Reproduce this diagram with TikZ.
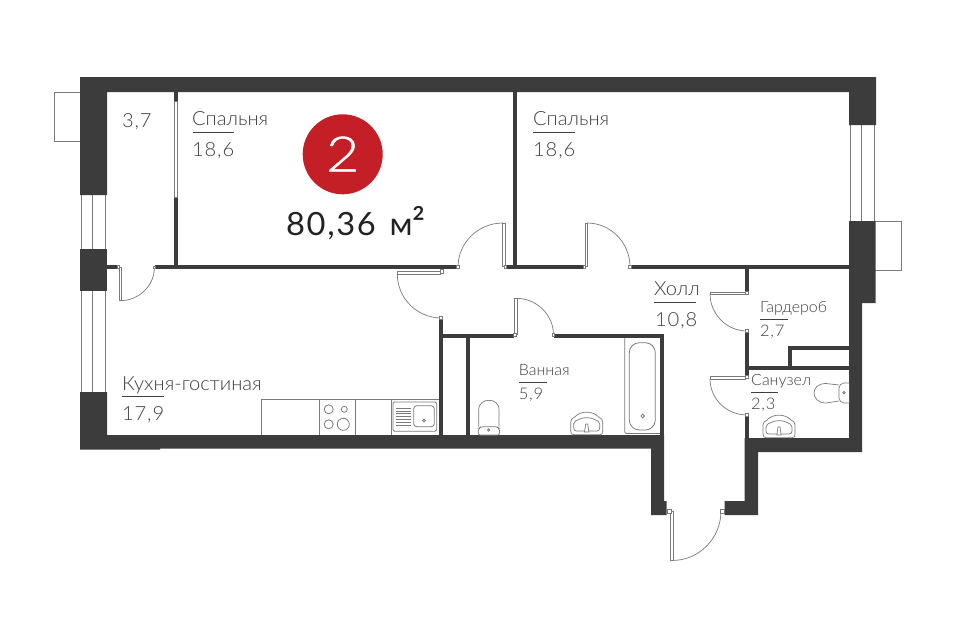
\documentclass[tikz,border=0pt]{standalone}
\usepackage{fontspec}
\usetikzlibrary{calc}
\setmainfont{Lato Light}[FakeStretch=1.03]
\newfontfamily\digitfont[LetterSpace=4.5,FakeStretch=1.03]{Lato Light}
\newfontfamily\numfont[FakeStretch=1.18,FakeBold=0.8]{Lato Light}
\newfontfamily\areafont[LetterSpace=5,FakeStretch=1.02]{Lato}
\definecolor{wallc}{HTML}{3C3C3C}
\definecolor{linec}{HTML}{7A7A7A}
\definecolor{txtc}{HTML}{3F3F3F}
\definecolor{redc}{HTML}{C41E26}
\definecolor{areac}{HTML}{222222}
\tikzset{
  wall/.style={fill=wallc,draw=none},
  thin line/.style={draw=linec,line width=0.8pt},
  fix/.style={draw=linec,line width=0.7pt,fill=white},
  leaf/.style={draw=linec,line width=0.7pt,fill=white},
  swing/.style={draw=linec,line width=0.7pt},
  lab/.style={anchor=base west,inner sep=0pt,text=txtc,font=\fontsize{19.5}{21}\selectfont},
  labd/.style={anchor=base west,inner sep=0pt,text=txtc,font=\digitfont\fontsize{19.5}{21}\selectfont},
  labs/.style={anchor=base west,inner sep=0pt,text=txtc,font=\fontsize{15.5}{17}\selectfont},
  labsd/.style={anchor=base west,inner sep=0pt,text=txtc,font=\digitfont\fontsize{16}{17}\selectfont},
  rule/.style={draw=txtc,line width=0.8pt},
}
% quarter swing: from #1 to #2 with the bounding corner #3
\newcommand{\swingarc}[3]{\draw[swing] #1 .. controls ($#1!.5523!#3$) and ($#2!.5523!#3$) .. #2;}
% washbasin: local origin = bottom centre
\newcommand{\basinplan}[2]{%
  \begin{scope}[shift={(#1,#2)}]
    \draw[fix] (-13,-0.3) .. controls (-15,-0.3) and (-16,-1.5) .. (-16,-4) -- (-16,-13) .. controls (-16,-15.5) and (-14.5,-17) .. (-12,-18) .. controls (-6,-24.5) and (6,-24.5) .. (12,-18) .. controls (14.5,-17) and (16,-15.5) .. (16,-13) -- (16,-4) .. controls (16,-1.5) and (15,-0.3) .. (13,-0.3) -- cycle;
    \draw[thin line,line width=0.7pt] (-10,-4) .. controls (-12,-4) and (-13,-5) .. (-13,-7) -- (-13,-11) .. controls (-13,-14) and (-10,-14.5) .. (-8,-15.5) .. controls (-4,-18) and (4,-18) .. (8,-15.5) .. controls (10,-14.5) and (13,-14) .. (13,-11) -- (13,-7) .. controls (13,-5) and (12,-4) .. (10,-4) -- cycle;
    \draw[fix] (-2.2,-3) -- (-1,-11) -- (1,-11) -- (2.2,-3) -- cycle;
  \end{scope}}
\begin{document}
\begin{tikzpicture}[x=1pt,y=-1pt]
\useasboundingbox (0,0) rectangle (960,640);
\fill[white] (0,0) rectangle (960,640);

% balconies
\draw[thin line] (80,92) -- (54,92) -- (54,141) -- (80,141);
\draw[thin line] (875,221) -- (901,221) -- (901,270) -- (875,270);

% windows
\foreach \x in {81,92,105.5} {
  \draw[thin line] (\x,195) -- (\x,249);
  \draw[thin line] (\x,291) -- (\x,392);
}
\foreach \x in {850.5,861,874} \draw[thin line] (\x,125) -- (\x,221);

% outer walls
\fill[wall] (80,77) -- (876,77) -- (876,125) -- (849,125) -- (849,92) -- (107,92) -- (107,195) -- (80,195) -- cycle;
\fill[wall] (80,249) rectangle (107,291);
\fill[wall] (80,392) -- (107,392) -- (107,435) -- (651,435) -- (664,435) -- (664,501) -- (666.7,501) -- (666.7,515) -- (651,515) -- (651,448.5) -- (160,448.5) -- (160,449.5) -- (80,449.5) -- cycle;
\fill[wall] (849,221) -- (875.5,221) -- (875.5,303) -- (862,303) -- (862,452) -- (758,452) -- (758,515) -- (724.5,515) -- (724.5,501) -- (744.5,501) -- (744.5,438) -- (849,438) -- cycle;

% inner walls
\fill[wall] (174,92) rectangle (177.5,101);
\fill[wall] (174,197) rectangle (177.5,265);
\fill[wall] (107,265) rectangle (117,269);
\fill[wall] (155,265) rectangle (457,269);
\fill[wall] (513.3,92) rectangle (517,265);
\fill[wall] (506,265) rectangle (583.5,269);
\fill[wall] (630.5,265) rectangle (849,269);
\fill[wall] (439.3,319) rectangle (443.3,448);
\fill[wall] (443,334) rectangle (513.5,338);
\fill[wall] (465.5,338) rectangle (470,435);
\fill[wall] (553.5,334) rectangle (664,338);
\fill[wall] (660,338) rectangle (664,435);
\fill[wall] (744.5,269) rectangle (749,292);
\fill[wall] (744.5,331) rectangle (749,376);
\fill[wall] (744.5,415) rectangle (749,438);
\fill[wall] (749,366) rectangle (849,370);
\fill[wall] (788,346) rectangle (792,366);
\fill[wall] (792,346) rectangle (849,350);

% glazed partition
\draw[fix] (174.3,101) rectangle (177.2,197);

% doors
\swingarc{(120,300.7)}{(154.5,267)}{(154.5,300.7)}
\draw[leaf] (119,267.5) rectangle (121.3,300.7);
\draw[fix] (117,265.5) rectangle (119.5,268);
\draw[fix] (153.5,266) rectangle (155.5,268.5);

\swingarc{(503,223)}{(458,267)}{(458,223)}
\draw[leaf] (502.2,223) rectangle (505.3,266);
\draw[fix] (504.5,265.5) rectangle (506.8,268.5);
\draw[fix] (456.8,265.5) rectangle (459.5,268.5);

\swingarc{(587,223)}{(630,267)}{(630,223)}
\draw[leaf] (585,223) rectangle (587.5,266);
\draw[fix] (583,265.5) rectangle (585.5,268.5);
\draw[fix] (628.8,265.5) rectangle (631,268.5);

\swingarc{(397.3,274)}{(441.5,318)}{(397.3,318)}
\draw[leaf] (397.3,271.5) rectangle (440,274.3);
\draw[fix] (440,269.3) rectangle (443.3,273);
\draw[fix] (439.8,316.8) rectangle (442.8,319.5);

\swingarc{(516,298.3)}{(553.5,335)}{(553.5,298.3)}
\draw[leaf] (514.8,298.3) rectangle (517.3,334);
\draw[fix] (513.3,333.8) rectangle (516.3,336.8);
\draw[fix] (552,333.8) rectangle (554.5,336.8);

\swingarc{(710,293.5)}{(747,331)}{(710,331)}
\draw[leaf] (710,292.2) rectangle (745.5,294.2);
\draw[fix] (745,291) rectangle (748.5,294);
\draw[fix] (745.5,329.5) rectangle (748.5,332);

\swingarc{(710,379)}{(747,415)}{(710,415)}
\draw[leaf] (710,376.7) rectangle (745.5,379.2);
\draw[fix] (745,375.5) rectangle (748.5,378.5);
\draw[fix] (745.5,413.5) rectangle (748.5,416);

\swingarc{(672,560.5)}{(721,511)}{(721,560.5)}
\draw[leaf] (670.7,511) rectangle (673.3,560.5);
\draw[fix] (667.5,509.5) rectangle (671.5,513.5);
\draw[fix] (720.7,509.5) rectangle (724.3,513);

% kitchen
\draw[thin line] (261,435) -- (261,399) -- (439,399);
\foreach \x in {319,355,391} \draw[thin line] (\x,399) -- (\x,435);
\draw[thin line] (328.7,409.3) circle[radius=4.5];
\draw[thin line] (344.3,409.3) circle[radius=3];
\draw[thin line] (328.7,424.3) circle[radius=4.5];
\draw[thin line] (343.3,424.3) circle[radius=6];
\draw[thin line,rounded corners=1.5pt] (393,402) rectangle (436.7,431.3);
\draw[thin line,rounded corners=3pt] (413.7,405.7) rectangle (434.3,426.7);
\draw[thin line] (424,420.7) circle[radius=1.4];
\foreach \y in {408,410.8,...,425.5} \draw[draw=linec,line width=0.6pt] (396,\y) -- (411,\y);

% bath
\draw[thin line,rounded corners=2pt] (624.7,338) -- (624.7,433.5) -- (660,433.5);
\draw[thin line,rounded corners=10pt] (629.3,342.7) rectangle (655.3,430);
\draw[thin line] (642.7,416) circle[radius=1.8];

% toilet bath
\draw[fix] (478.7,426.7) -- (478.7,410) .. controls (478.7,403) and (484,400.3) .. (489,400.3) .. controls (494,400.3) and (499,403) .. (499,410) -- (499,426.7);
\draw[fix,rounded corners=2pt] (478.3,435) -- (478.3,428.5) -- (481,426.7) -- (497,426.7) -- (499.5,428.5) -- (499.5,435) -- cycle;
\draw[thin line] (488.7,430) circle[radius=1.2];
\basinplan{586.7}{435}

% sanuzel
\draw[fix] (839,385) -- (826,383.5) .. controls (818,383.5) and (814,388) .. (814,393) .. controls (814,398) and (818,403) .. (826,403) -- (839,401);
\draw[fix,rounded corners=2pt] (849,383) -- (842,383) -- (839,386) -- (839,400) -- (842,403) -- (849,403);
\draw[thin line] (844,392.7) circle[radius=1.2];
\basinplan{779}{438}

% badge
\node[circle,fill=redc,draw=none,minimum size=80pt,inner sep=0pt] (badge) at (342.7,154.3) {};
\node[anchor=center,inner sep=0pt,text=white,font=\numfont\fontsize{49}{50}\selectfont] (badgenum) at (342.7,154) {2};
\node[anchor=base west,inner sep=0pt,text=areac,font=\areafont\fontsize{32}{34}\selectfont] (area) at (286,235) {80,36\hspace{14pt}м\raisebox{-2pt}{\fontsize{38}{40}\selectfont ²}};

% labels
\node[lab] (l1) at (192,125) {Спальня};
\draw[rule] (192.5,132) -- (234,132);
\node[labd] (l1a) at (192,156) {18,6};
\node[labd] (l2) at (122,127.5) {3,7};
\node[lab] (l3) at (533,125) {Спальня};
\draw[rule] (533,132) -- (575,132);
\node[labd] (l3a) at (533,156) {18,6};
\node[lab] (l4) at (122,390) {Кухня-гостиная};
\draw[rule] (122,396.5) -- (164,396.5);
\node[labd] (l4a) at (122,420) {17,9};
\node[lab] (l5) at (654,295.5) {Холл};
\draw[rule] (654,302.7) -- (696,302.7);
\node[labd] (l5a) at (655,326) {10,8};
\node[labs] (l6) at (518.7,375.7) {Ванная};
\draw[rule] (519,382.7) -- (547,382.7);
\node[labsd] (l6a) at (518.7,399) {5,9};
\node[labs] (l7) at (760,312) {Гардероб};
\draw[rule] (760,319) -- (788,319);
\node[labsd] (l7a) at (760,336) {2,7};
\node[labs] (l8) at (751,385) {Санузел};
\draw[rule] (751,392.3) -- (778,392.3);
\node[labsd] (l8a) at (751,409) {2,3};
\end{tikzpicture}
\end{document}
